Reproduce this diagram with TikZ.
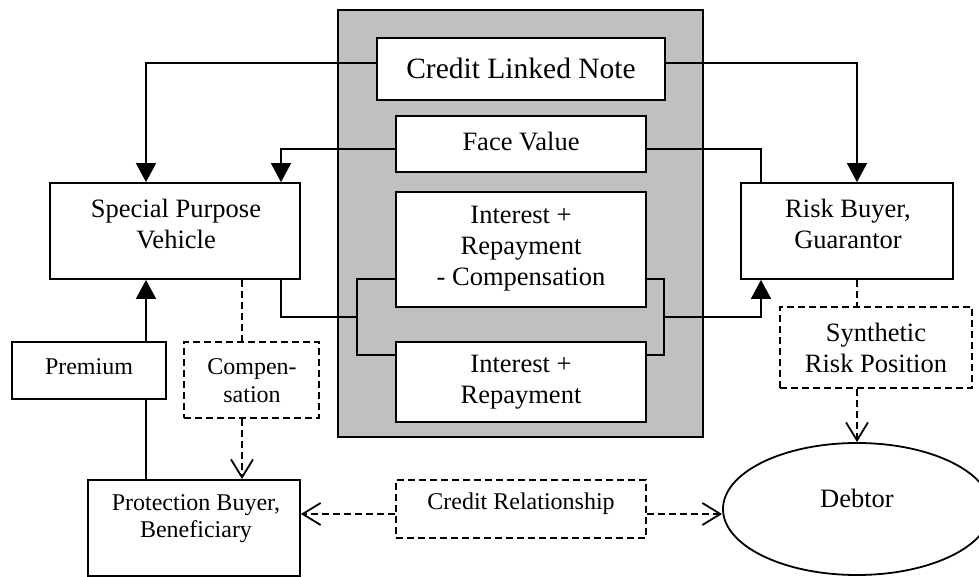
\documentclass[tikz,border=0pt]{standalone}
\usepackage{fontspec}
\setmainfont{Liberation Serif}
\usetikzlibrary{arrows.meta,shapes.geometric}
\definecolor{panelgray}{HTML}{C0C0C0}
\tikzset{
  every picture/.style={line width=1.8pt},
  boxshape/.style={draw, fill=white, rectangle, inner sep=0pt},
  dashbox/.style={boxshape, dash pattern=on 7pt off 4pt},
  lbl/.style={align=center, inner sep=0pt, font=\fontsize{26.5}{31}\selectfont},
  lblsmall/.style={align=center, inner sep=0pt, font=\fontsize{24}{27.5}\selectfont},
  lblbig/.style={align=center, inner sep=0pt, font=\fontsize{29.5}{34}\selectfont},
  solidarrow/.style={-{Triangle[length=19pt,width=20pt]}},
  dashline/.style={dash pattern=on 7pt off 4pt},
  dasharrow/.style={dashline, -{Straight Barb[length=18pt,width=22pt]}},
}
\begin{document}
\begin{tikzpicture}[x=1pt,y=-1pt]
\useasboundingbox (0,0) rectangle (979,577);

% central grey panel holding the note and its cash flows
\node[draw, fill=panelgray, minimum width=365pt, minimum height=427pt, inner sep=0pt] (panel) at (520.5,223.5) {};

% boxes
\node[boxshape, minimum width=288pt, minimum height=62pt] (cln) at (521,69) {};
\node[lblbig] (clntext) at (521,68) {Credit Linked Note};

\node[boxshape, minimum width=250pt, minimum height=56pt] (fv) at (521,144) {};
\node[lbl] (fvtext) at (521,142) {Face Value};

\node[boxshape, minimum width=250pt, minimum height=115pt] (irc) at (521,249.5) {};
\node[lbl] (irctext) at (521,248.5) {Interest +\\Repayment\\- Compensation};

\node[boxshape, minimum width=250pt, minimum height=80pt] (ir) at (521,382) {};
\node[lbl] (irtext) at (521,382.5) {Interest +\\Repayment};

\node[boxshape, minimum width=250pt, minimum height=96pt] (spv) at (175,231) {};
\node[lbl] (spvtext) at (176,224) {Special Purpose\\Vehicle};

\node[boxshape, minimum width=212pt, minimum height=96pt] (rb) at (847,231) {};
\node[lbl] (rbtext) at (848,224) {Risk Buyer,\\Guarantor};

\node[boxshape, minimum width=154pt, minimum height=57pt] (prem) at (89,370.5) {};
\node[lblsmall] (premtext) at (89,367) {Premium};

\node[dashbox, minimum width=135pt, minimum height=76pt] (comp) at (251.5,380) {};
\node[lblsmall] (comptext) at (252,380.5) {Compen-\\sation};

\node[boxshape, minimum width=212pt, minimum height=96pt] (pb) at (194,528) {};
\node[lblsmall] (pbtext) at (196,518.5) {Protection Buyer,\\Beneficiary};

\node[dashbox, minimum width=250pt, minimum height=58pt] (cr) at (521,509) {};
\node[lblsmall] (crtext) at (521,504) {Credit Relationship};

\node[dashbox, minimum width=192pt, minimum height=81pt] (srp) at (876,347.5) {};
\node[lbl] (srptext) at (876,347.5) {Synthetic\\Risk Position};

\node[draw, fill=white, ellipse, minimum width=268pt, minimum height=132pt, inner sep=0pt] (debtor) at (857,509) {};
\node[lbl] (debtortext) at (857,498) {Debtor};

% reference levels for the connectors
\coordinate (yN) at (0,63);
\coordinate (yF) at (0,149);
\coordinate (yI) at (0,317);
\coordinate (yB1) at (0,279);
\coordinate (yB2) at (0,355);
\coordinate (yCR) at (0,514);
\coordinate (xP) at (146,0);
\coordinate (xV) at (281,0);
\coordinate (xC) at (242,0);
\coordinate (xL) at (357,0);
\coordinate (xRr) at (664,0);
\coordinate (xR) at (761,0);
\coordinate (xD) at (857,0);

% credit linked note to both parties
\draw[solidarrow] (cln.west |- yN) -| (xP |- spv.north);
\draw[solidarrow] (cln.east |- yN) -| (xD |- rb.north);

% face value
\draw[solidarrow] (fv.west |- yF) -| (xV |- spv.north);
\draw (fv.east |- yF) -| (xR |- rb.north);

% interest and repayment brackets
\draw (irc.west |- yB1) -| (xL |- yB2) -- (ir.west |- yB2);
\draw (xV |- spv.south) |- (xL |- yI);
\draw (irc.east |- yB1) -| (xRr |- yB2) -- (ir.east |- yB2);
\draw[solidarrow] (xRr |- yI) -| (xR |- rb.south);

% premium
\draw[solidarrow] (xP |- prem.north) -- (xP |- spv.south);
\draw (xP |- prem.south) -- (xP |- pb.north);

% compensation
\draw[dashline] (xC |- spv.south) -- (xC |- comp.north);
\draw[dasharrow] (xC |- comp.south) -- (xC |- pb.north);

% credit relationship
\draw[dasharrow] (cr.west |- yCR) -- (pb.east |- yCR);
\draw[dasharrow] (cr.east |- yCR) -- (debtor.west |- yCR);

% synthetic risk position
\draw[dashline] (xD |- rb.south) -- (xD |- srp.north);
\draw[dasharrow] (xD |- srp.south) -- (debtor.north);
\end{tikzpicture}
\end{document}
